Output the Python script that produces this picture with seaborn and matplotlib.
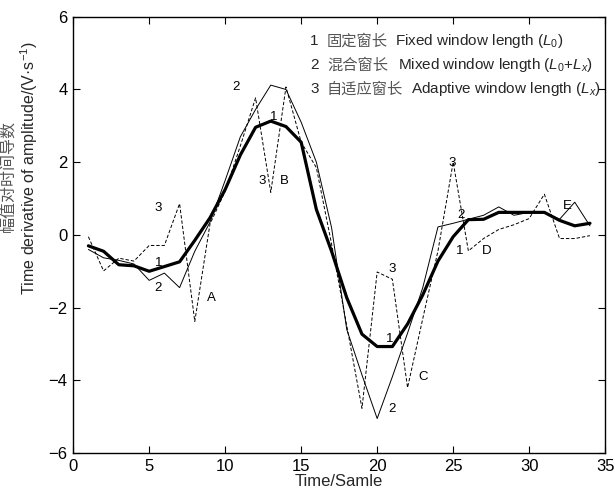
import numpy as np
import pandas as pd
import matplotlib
matplotlib.use("Agg")
import matplotlib.pyplot as plt
import seaborn as sns

samples = list(range(1, 35))
fixed_L0 = [-0.30, -0.45, -0.82, -0.85, -1.00, -0.87, -0.74, -0.15, 0.47, 1.25,
            2.20, 2.96, 3.13, 2.98, 2.55, 0.70, -0.45, -1.73, -2.73, -3.07,
            -3.07, -2.45, -1.65, -0.72, -0.05, 0.42, 0.43, 0.62, 0.62, 0.62,
            0.62, 0.40, 0.25, 0.32]
mixed = [-0.40, -0.63, -0.70, -0.80, -1.25, -1.05, -1.45, -0.45, 0.35, 1.50,
         2.70, 3.45, 4.12, 4.00, 3.10, 2.00, 0.20, -2.60, -3.85, -5.05,
         -3.90, -2.70, -1.45, 0.22, 0.32, 0.43, 0.54, 0.77, 0.54, 0.62,
         0.62, 0.43, 0.90, 0.25]
adaptive = [-0.05, -0.99, -0.64, -0.72, -0.29, -0.29, 0.86, -2.38, 0.30, 1.20,
            2.45, 3.77, 1.17, 4.07, 2.55, 1.85, -0.25, -2.50, -4.77, -1.02,
            -1.22, -4.20, -2.30, -0.44, 2.00, -0.44, -0.10, 0.15, 0.28, 0.45,
            1.12, -0.10, -0.10, -0.02]

labels = [("3", 5.6, 0.75), ("1", 5.6, -0.77), ("2", 5.6, -1.46), ("A", 9.1, -1.74),
          ("2", 10.7, 4.06), ("1", 13.2, 3.23), ("3", 12.45, 1.49), ("B", 13.9, 1.49),
          ("3", 21.0, -0.94), ("1", 20.8, -2.85), ("C", 23.0, -3.9), ("2", 21.0, -4.78),
          ("3", 24.9, 1.99), ("2", 25.5, 0.55), ("1", 25.4, -0.44), ("D", 27.2, -0.44),
          ("E", 32.5, 0.8)]

sns.set_style("ticks")
plt.rcParams['font.family'] = ['Liberation Sans', 'Noto Sans CJK SC']
plt.rcParams['mathtext.fontset'] = 'custom'
plt.rcParams['mathtext.rm'] = 'Liberation Sans'
plt.rcParams['mathtext.it'] = 'Liberation Sans:italic'

df = pd.DataFrame({"x": samples * 3,
                   "y": mixed + adaptive + fixed_L0,
                   "s": ["mixed"] * 34 + ["adaptive"] * 34 + ["fixed"] * 34})

fig = plt.figure(figsize=(6.15, 4.93), dpi=100)
ax = fig.add_axes([0.119, 0.081, 0.865, 0.885])

sns.lineplot(data=df[df.s == "mixed"], x="x", y="y", ax=ax, color="black", lw=0.7)
sns.lineplot(data=df[df.s == "adaptive"], x="x", y="y", ax=ax, color="black", lw=0.7,
             linestyle=(0, (3.5, 2)))
sns.lineplot(data=df[df.s == "fixed"], x="x", y="y", ax=ax, color="black", lw=2.3)

for t, x, y in labels:
    ax.text(x, y, t, fontsize=9.5, ha="center", va="center", color="black")

ax.set_xlim(0, 35)
ax.set_ylim(-6, 6)
ax.set_xticks(range(0, 36, 5))
ax.set_yticks(range(-6, 7, 2))
ax.tick_params(direction="in", length=5, width=0.8, top=True, right=True,
               labelsize=12, colors="black", pad=4)
for sp in ax.spines.values():
    sp.set_linewidth(1.0)
    sp.set_color("black")
ax.set_xlabel("Time/Samle", fontsize=12, labelpad=0)
ax.set_ylabel("")

# legend-like text block
rows = [("1", "固定窗长", "Fixed window length ($L_0$)", 5.33, 21.2),
        ("2", "混合窗长", "Mixed window length ($L_0$+$L_x$)", 4.67, 21.4),
        ("3", "自适应窗长", "Adaptive window length ($L_x$)", 4.0, 22.2)]
for n, zh, en, y, xe in rows:
    ax.text(15.6, y, n, fontsize=11, va="center", ha="left")
    ax.text(16.7, y, zh, fontsize=11, va="center", ha="left", color="#555555",
            family=["Noto Sans CJK SC"])
    ax.text(xe, y, en, fontsize=11, va="center", ha="left")

fig.text(0.015, 0.643, "幅值对时间导数", rotation=90, fontsize=11.5, color="#555555",
         ha="center", va="center", family=["Noto Sans CJK SC"])
fig.text(0.047, 0.658, "Time derivative of amplitude/(V·s$^{-1}$)", rotation=90,
         fontsize=11.5, ha="center", va="center")

fig.savefig("out.png", dpi=100)
